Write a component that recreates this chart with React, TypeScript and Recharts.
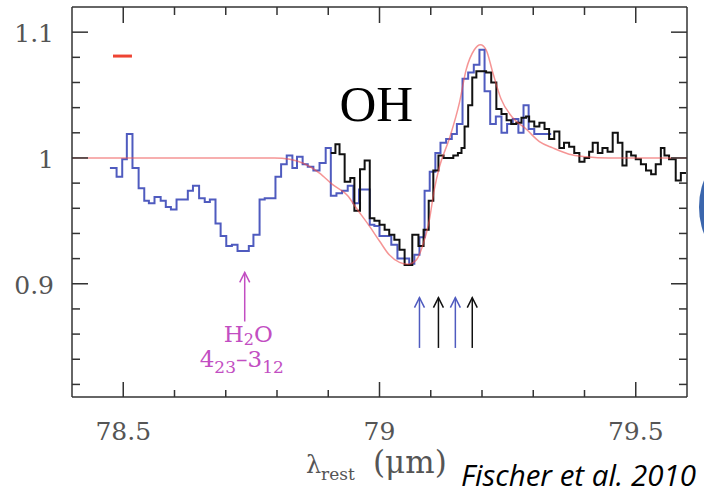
import { Label, Line, LineChart, ReferenceDot, ReferenceLine, XAxis, YAxis } from 'recharts';

// wavelength (um) of each bin's left edge, and continuum-normalised flux
const blueWave = [
  78.474, 78.487, 78.498, 78.507, 78.518, 78.53, 78.541, 78.55, 78.561, 78.573, 78.583, 78.593,
  78.604, 78.615, 78.626, 78.636, 78.648, 78.659, 78.669, 78.68, 78.69, 78.701, 78.712, 78.723,
  78.733, 78.745, 78.754, 78.766, 78.776, 78.786, 78.797, 78.808, 78.819, 78.83, 78.839, 78.85,
  78.86, 78.871, 78.883, 78.895, 78.905, 78.916, 78.927, 78.938, 78.949, 78.96, 78.97, 78.981,
  78.99, 79.0, 79.012, 79.023, 79.035, 79.047, 79.058, 79.068, 79.078, 79.088, 79.098, 79.109,
  79.119, 79.13, 79.141, 79.151, 79.162, 79.173, 79.184, 79.195, 79.205, 79.216, 79.227, 79.238,
  79.249, 79.26, 79.271, 79.281, 79.291, 79.302, 79.335,
];
const blueFlux = [
  0.992, 0.985, 0.999, 1.019, 0.992, 0.976, 0.966, 0.964, 0.969, 0.966, 0.961, 0.959,
  0.967, 0.967, 0.974, 0.978, 0.968, 0.965, 0.967, 0.948, 0.938, 0.93, 0.931, 0.926,
  0.926, 0.93, 0.939, 0.967, 0.968, 0.968, 0.985, 0.995, 1.002, 0.992, 1.001, 0.995,
  0.993, 0.99, 0.996, 1.008, 0.97, 0.972, 0.974, 0.978, 0.964, 0.975, 0.975, 0.947,
  0.946, 0.938, 0.938, 0.931, 0.92, 0.92, 0.916, 0.923, 0.937, 0.974, 0.989, 1.004,
  1.012, 1.015, 1.019, 1.027, 1.063, 1.068, 1.074, 1.086, 1.053, 1.027, 1.033, 1.02,
  1.027, 1.031, 1.02, 1.042, 1.023, 1.019, 1.019,
];

const blackWave = [
  78.905, 78.914, 78.922, 78.932, 78.943, 78.951, 78.962, 78.971, 78.981, 78.99, 79.0, 79.01,
  79.019, 79.029, 79.039, 79.049, 79.064, 79.076, 79.086, 79.096, 79.105, 79.115, 79.125, 79.135,
  79.144, 79.153, 79.16, 79.166, 79.173, 79.181, 79.189, 79.199, 79.208, 79.218, 79.228, 79.238,
  79.248, 79.257, 79.267, 79.277, 79.286, 79.292, 79.302, 79.312, 79.322, 79.331, 79.341, 79.351,
  79.36, 79.37, 79.38, 79.39, 79.4, 79.409, 79.416, 79.426, 79.435, 79.445, 79.455, 79.465,
  79.474, 79.482, 79.491, 79.5, 79.51, 79.52, 79.53, 79.539, 79.549, 79.556, 79.565, 79.578,
  79.588, 79.598,
];
const blackFlux = [
  1.004, 1.011, 1.003, 0.981, 0.984, 0.958, 0.991, 0.998, 0.952, 0.95, 0.947, 0.943,
  0.939, 0.935, 0.927, 0.915, 0.939, 0.93, 0.943, 0.966, 0.99, 1.002, 1.0, 1.0,
  1.002, 1.004, 1.008, 1.025, 1.042, 1.064, 1.069, 1.069, 1.068, 1.06, 1.039, 1.035,
  1.03, 1.027, 1.028, 1.032, 1.033, 1.029, 1.025, 1.028, 1.023, 1.015, 1.021, 1.008,
  1.012, 1.009, 1.004, 0.997, 1.0, 1.005, 1.012, 1.004, 1.008, 1.005, 1.02, 1.012,
  0.994, 1.005, 1.002, 0.999, 0.995, 0.99, 0.987, 0.995, 1.008, 1.002, 0.999, 0.982,
  0.988, 0.988,
];

const modelWave = [
  78.4, 78.795, 78.825, 78.85, 78.883, 78.908, 78.938, 78.955, 78.98, 79.0, 79.019, 79.039,
  79.055, 79.072, 79.084, 79.097, 79.107, 79.117, 79.136, 79.156, 79.169, 79.185, 79.197, 79.208,
  79.221, 79.237, 79.26, 79.286, 79.312, 79.338, 79.37, 79.403, 79.448, 79.6,
];
const modelFlux = [
  1.0, 1.0, 0.999, 0.996, 0.988, 0.979, 0.97, 0.96, 0.946, 0.934, 0.923, 0.917,
  0.9155, 0.919, 0.93, 0.95, 0.975, 0.993, 1.015, 1.044, 1.07, 1.086, 1.09, 1.086,
  1.068, 1.047, 1.032, 1.023, 1.013, 1.008, 1.003, 1.001, 1.0, 1.0,
];

const xTicks = [78.5, 78.6, 78.7, 78.8, 78.9, 79, 79.1, 79.2, 79.3, 79.4, 79.5];
const xLabels = [78.5, 79, 79.5];
const yTicks = [0.82, 0.84, 0.86, 0.88, 0.9, 0.92, 0.94, 0.96, 0.98, 1, 1.02, 1.04, 1.06, 1.08, 1.1];
const yLabels = [0.9, 1, 1.1];

// OH line positions marked with arrows
const ohLines = [79.078, 79.115, 79.148, 79.181];
const ohColors = ['#4f5bbf', '#111111', '#4f5bbf', '#111111'];
const h2oLine = 78.737;

const blueData = blueWave.map((x, i) => ({ x, y: blueFlux[i] }));
const blackData = blackWave.map((x, i) => ({ x, y: blackFlux[i] }));
const modelData = modelWave.map((x, i) => ({ x, y: modelFlux[i] }));

const FRAME = '#333333';
const LABEL = '#555555';
const MAGENTA = '#c24ec2';
const tickFont = '"DejaVu Serif", serif';

function BottomTick({ x, y, payload }: any) {
  const major = xLabels.includes(payload.value);
  return (
    <g>
      <line x1={x} x2={x} y1={y} y2={y - (major ? 15 : 7)} stroke={FRAME} strokeWidth={1.5} />
      {major && (
        <text x={x} y={y + 43} textAnchor="middle" fill={LABEL} fontSize={25} fontFamily={tickFont}>
          {payload.value}
        </text>
      )}
    </g>
  );
}

function TopTick({ x, y, payload }: any) {
  const major = xLabels.includes(payload.value);
  return <line x1={x} x2={x} y1={y} y2={y + (major ? 16 : 8)} stroke={FRAME} strokeWidth={1.5} />;
}

function LeftTick({ x, y, payload }: any) {
  const major = yLabels.includes(payload.value);
  return (
    <g>
      <line x1={x} x2={x + (major ? 16 : 8)} y1={y} y2={y} stroke={FRAME} strokeWidth={1.5} />
      {major && (
        <text x={x - 18} y={y + 10} textAnchor="end" fill={LABEL} fontSize={25} fontFamily={tickFont}>
          {payload.value}
        </text>
      )}
    </g>
  );
}

function RightTick({ x, y, payload }: any) {
  const major = yLabels.includes(payload.value);
  return <line x1={x} x2={x - (major ? 16 : 8)} y1={y} y2={y} stroke={FRAME} strokeWidth={1.5} />;
}

function arrowHead(color: string) {
  return ({ cx, cy }: any) => (
    <path
      d={`M${cx - 5},${cy + 10} L${cx},${cy} L${cx + 5},${cy + 10}`}
      fill="none"
      stroke={color}
      strokeWidth={1.5}
    />
  );
}

function AxisTitle({ viewBox }: any) {
  const y = viewBox.y + 76;
  return (
    <g fill={LABEL} fontFamily={tickFont}>
      <text x={306} y={y} fontSize={24}>
        λ
      </text>
      <text x={321} y={y + 7} fontSize={17}>
        rest
      </text>
      <text x={373} y={y} fontSize={31}>
        (μm)
      </text>
    </g>
  );
}

export default function App() {
  return (
    <div
      style={{
        position: 'absolute',
        left: 0,
        top: 0,
        width: 704,
        height: 494,
        overflow: 'hidden',
        background: '#ffffff',
      }}
    >
      <LineChart width={704} height={494} margin={{ top: 6, right: 16, bottom: 96, left: 71 }}>
        <XAxis
          dataKey="x"
          type="number"
          domain={[78.4, 79.6]}
          allowDataOverflow
          ticks={xTicks}
          interval={0}
          height={1}
          tickSize={0}
          tickMargin={0}
          tickLine={false}
          tick={BottomTick}
          axisLine={{ stroke: FRAME, strokeWidth: 1.5 }}
        >
          <Label content={AxisTitle} />
        </XAxis>
        <XAxis
          xAxisId="top"
          orientation="top"
          dataKey="x"
          type="number"
          domain={[78.4, 79.6]}
          allowDataOverflow
          ticks={xTicks}
          interval={0}
          height={1}
          tickSize={0}
          tickMargin={0}
          tickLine={false}
          tick={TopTick}
          axisLine={{ stroke: FRAME, strokeWidth: 1.5 }}
        />
        <YAxis
          type="number"
          domain={[0.81, 1.12]}
          allowDataOverflow
          ticks={yTicks}
          interval={0}
          width={1}
          tickSize={0}
          tickMargin={0}
          tickLine={false}
          tick={LeftTick}
          axisLine={{ stroke: FRAME, strokeWidth: 1.5 }}
        />
        <YAxis
          yAxisId="right"
          orientation="right"
          type="number"
          domain={[0.81, 1.12]}
          allowDataOverflow
          ticks={yTicks}
          interval={0}
          width={1}
          tickSize={0}
          tickMargin={0}
          tickLine={false}
          tick={RightTick}
          axisLine={{ stroke: FRAME, strokeWidth: 1.5 }}
        />

        <Line
          data={blueData}
          dataKey="y"
          type="stepAfter"
          stroke="#4f5bbf"
          strokeWidth={2}
          dot={false}
          isAnimationActive={false}
        />
        <Line
          data={blackData}
          dataKey="y"
          type="stepAfter"
          stroke="#111111"
          strokeWidth={2}
          dot={false}
          isAnimationActive={false}
        />
        <Line
          data={modelData}
          dataKey="y"
          type="monotone"
          stroke="#ee4f4f"
          strokeOpacity={0.6}
          strokeWidth={1.5}
          dot={false}
          isAnimationActive={false}
        />

        <ReferenceLine
          segment={[
            { x: 78.48, y: 1.081 },
            { x: 78.517, y: 1.081 },
          ]}
          stroke="#ee4433"
          strokeWidth={3}
        />

        {ohLines.map((w, i) => (
          <ReferenceLine
            key={`oh-${w}`}
            segment={[
              { x: w, y: 0.849 },
              { x: w, y: 0.889 },
            ]}
            stroke={ohColors[i]}
            strokeWidth={1.5}
          />
        ))}
        {ohLines.map((w, i) => (
          <ReferenceDot key={`ohh-${w}`} x={w} y={0.889} r={0} shape={arrowHead(ohColors[i])} />
        ))}

        <ReferenceLine
          segment={[
            { x: h2oLine, y: 0.87 },
            { x: h2oLine, y: 0.909 },
          ]}
          stroke={MAGENTA}
          strokeWidth={1.5}
        />
        <ReferenceDot x={h2oLine} y={0.909} r={0} shape={arrowHead(MAGENTA)} />
        <ReferenceDot
          x={h2oLine}
          y={0.87}
          r={0}
          shape={({ cx, cy }: any) => (
            <g fill={MAGENTA} fontFamily={tickFont}>
              <text x={cx - 21} y={cy + 20} fontSize={23}>
                H
                <tspan dy={3} fontSize={16}>
                  2
                </tspan>
                <tspan dy={-3}>O</tspan>
              </text>
              <text x={cx - 45} y={cy + 45} fontSize={23}>
                4
                <tspan dy={6} fontSize={17}>
                  23
                </tspan>
                <tspan dy={-6}>–3</tspan>
                <tspan dy={6} fontSize={17}>
                  12
                </tspan>
              </text>
            </g>
          )}
        />

        <ReferenceDot
          x={78.922}
          y={1.029}
          r={0}
          shape={({ cx, cy }: any) => (
            <text x={cx} y={cy} fontSize={51} fill="#000000" fontFamily='"Liberation Serif", serif'>
              OH
            </text>
          )}
        />
      </LineChart>

      <div
        style={{
          position: 'absolute',
          left: 461,
          top: 457,
          fontFamily: '"Open Sans", sans-serif',
          fontStyle: 'italic',
          fontSize: 29.5,
          lineHeight: '36px',
          color: '#000000',
          whiteSpace: 'nowrap',
        }}
      >
        Fischer et al. 2010
      </div>
      <div
        style={{
          position: 'absolute',
          left: 699,
          top: 155,
          width: 70,
          height: 104,
          borderRadius: '50%',
          background: '#3b66ad',
        }}
      />
    </div>
  );
}
